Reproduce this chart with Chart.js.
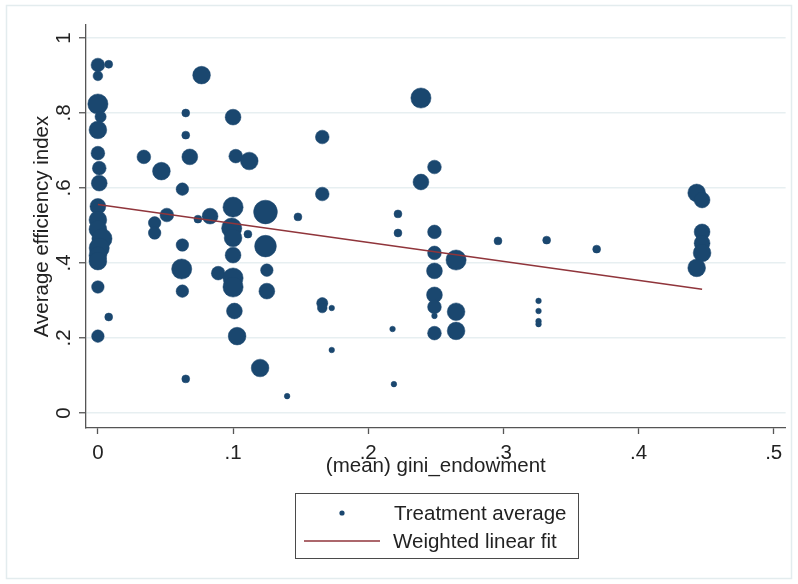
<!DOCTYPE html>
<html>
<head>
<meta charset="utf-8">
<title>Average efficiency index by gini endowment</title>
<script src="https://cdn.jsdelivr.net/npm/chart.js@4.4.1/dist/chart.umd.min.js"></script>
<style>
  html, body { margin: 0; padding: 0; background: #fff; }
  #wrap { position: relative; width: 798px; height: 584px; }
</style>
</head>
<body>
<div id="wrap"><canvas id="effChart" width="798" height="584"></canvas></div>
<script>
// treatment averages: gini of endowment, average efficiency, weight (obs per treatment)
var giniX = [
  0, 0.008, 0, 0, 0.002, 0, 0, 0.001, 0.001, 0,
  0, 0, 0.003, 0.001, 0, 0, 0, 0.008, 0,
  0.034, 0.047, 0.042, 0.042, 0.051, 0.074, 0.083, 0.065, 0.065, 0.068, 0.0625,
  0.0625, 0.062, 0.0625, 0.065, 0.0767, 0.089,
  0.100, 0.102, 0.112, 0.100, 0.099, 0.100, 0.100, 0.111, 0.100, 0.100, 0.101, 0.103,
  0.120, 0.124, 0.124, 0.125, 0.125, 0.140, 0.148,
  0.166, 0.166, 0.166, 0.166, 0.173, 0.173,
  0.218, 0.219, 0.222, 0.222,
  0.239, 0.249, 0.239, 0.249, 0.249, 0.249, 0.249, 0.249, 0.249, 0.249,
  0.265, 0.265, 0.265,
  0.296, 0.332, 0.369, 0.326, 0.326, 0.326, 0.326,
  0.443, 0.447, 0.447, 0.447, 0.447, 0.443
];
var effY = [
  0.928, 0.930, 0.899, 0.824, 0.790, 0.755, 0.693, 0.653, 0.613, 0.551,
  0.515, 0.490, 0.465, 0.440, 0.420, 0.405, 0.336, 0.256, 0.205,
  0.683, 0.645, 0.507, 0.480, 0.528, 0.517, 0.525, 0.800, 0.741, 0.683, 0.597,
  0.448, 0.384, 0.325, 0.091, 0.901, 0.373,
  0.789, 0.685, 0.672, 0.549, 0.493, 0.467, 0.421, 0.477, 0.360, 0.336, 0.272, 0.205,
  0.120, 0.536, 0.445, 0.381, 0.325, 0.045, 0.523,
  0.736, 0.584, 0.293, 0.280, 0.280, 0.168,
  0.224, 0.077, 0.531, 0.480,
  0.840, 0.656, 0.616, 0.483, 0.427, 0.379, 0.315, 0.283, 0.259, 0.213,
  0.408, 0.270, 0.219,
  0.459, 0.461, 0.437, 0.299, 0.272, 0.245, 0.237,
  0.587, 0.568, 0.483, 0.453, 0.427, 0.387
];
var obsWeight = [
  6, 2, 3, 13, 4, 10, 6, 6, 8, 8,
  10, 10, 13, 13, 10, 10, 5, 2, 5,
  6, 10, 5, 5, 6, 2, 8, 2, 2, 8, 5,
  5, 13, 5, 2, 10, 6,
  8, 6, 10, 13, 13, 10, 8, 2, 13, 13, 8, 10,
  10, 18, 15, 5, 8, 1, 2,
  6, 6, 4, 3, 1, 1,
  1, 1, 2, 2,
  13, 6, 8, 6, 6, 8, 8, 6, 1, 6,
  13, 10, 10,
  2, 2, 2, 1, 1, 1, 1,
  10, 8, 8, 8, 10, 10
];

// weighted linear fit, drawn over the observed range of gini
var fitX = [0, 0.447];
var fitY = [0.556, 0.330];

var xTicks = [0, 0.1, 0.2, 0.3, 0.4, 0.5];
var yTicks = [0, 0.2, 0.4, 0.6, 0.8, 1];

var NAVY = "#1a476f";
var MAROON = "#90353b";
var TEXT = "#222";
var FONT = "'Liberation Sans', Arial, sans-serif";
var FSIZE = 20.5;

function stataLabel(v) {
  return v === 0 ? "0" : String(v).replace(/^0\./, ".");
}

var points = giniX.map(function (x, i) { return { x: x, y: effY[i] }; });
var fitLine = fitX.map(function (x, i) { return { x: x, y: fitY[i] }; });

// frame round the whole graph and a white background
var framePlugin = {
  id: "frame",
  beforeDraw: function (chart) {
    var ctx = chart.ctx;
    ctx.save();
    ctx.fillStyle = "#fff";
    ctx.fillRect(0, 0, chart.width, chart.height);
    ctx.strokeStyle = "#e3ecee";
    ctx.lineWidth = 1.5;
    ctx.strokeRect(6.5, 5.5, chart.width - 13, chart.height - 11);
    ctx.restore();
  }
};

// vertical tick labels on the y axis, reading upwards
var yLabelPlugin = {
  id: "yLabels",
  afterDraw: function (chart) {
    var ctx = chart.ctx;
    var sc = chart.scales.y;
    ctx.save();
    ctx.fillStyle = TEXT;
    ctx.font = FSIZE + "px " + FONT;
    ctx.textAlign = "center";
    ctx.textBaseline = "alphabetic";
    yTicks.forEach(function (v) {
      var py = sc.getPixelForValue(v);
      ctx.save();
      ctx.translate(sc.right - 16, py);
      ctx.rotate(-Math.PI / 2);
      ctx.fillText(stataLabel(v), 0, 0);
      ctx.restore();
    });
    ctx.restore();
  }
};

// boxed legend under the x axis title
var legendPlugin = {
  id: "boxLegend",
  afterDraw: function (chart) {
    var ctx = chart.ctx;
    var ds = chart.data.datasets;
    var scatter = ds[1], fit = ds[0];
    ctx.save();
    ctx.strokeStyle = "#4a4a4a";
    ctx.lineWidth = 1;
    ctx.strokeRect(295.5, 493.5, 283, 65);

    ctx.fillStyle = scatter.backgroundColor;
    ctx.beginPath();
    ctx.arc(342, 513, 2.6, 0, Math.PI * 2);
    ctx.fill();

    ctx.strokeStyle = fit.borderColor;
    ctx.lineWidth = 1.6;
    ctx.beginPath();
    ctx.moveTo(304, 541);
    ctx.lineTo(380, 541);
    ctx.stroke();

    ctx.fillStyle = TEXT;
    ctx.font = FSIZE + "px " + FONT;
    ctx.textAlign = "left";
    ctx.textBaseline = "alphabetic";
    ctx.fillText(scatter.label, 394, 520);
    ctx.fillText(fit.label, 393, 548);
    ctx.restore();
  }
};

var chart = new Chart(document.getElementById("effChart").getContext("2d"), {
  type: "scatter",
  data: {
    datasets: [
      {
        type: "line",
        label: "Weighted linear fit",
        data: fitLine,
        borderColor: MAROON,
        backgroundColor: MAROON,
        borderWidth: 1.6,
        pointRadius: 0,
        fill: false,
        order: 0
      },
      {
        label: "Treatment average",
        data: points,
        backgroundColor: NAVY,
        pointBorderColor: NAVY,
        pointBorderWidth: 0.5,
        pointRadius: function (c) { return 2.8 * Math.sqrt(obsWeight[c.dataIndex]); },
        pointHoverRadius: function (c) { return 2.8 * Math.sqrt(obsWeight[c.dataIndex]); },
        clip: false,
        order: 1
      }
    ]
  },
  options: {
    responsive: false,
    animation: false,
    devicePixelRatio: 1,
    layout: { padding: { left: 0, right: 8, top: 25, bottom: 96 } },
    plugins: {
      legend: { display: false },
      tooltip: { enabled: false }
    },
    scales: {
      x: {
        type: "linear",
        min: -0.0088,
        max: 0.5088,
        afterBuildTicks: function (s) { s.ticks = xTicks.map(function (v) { return { value: v }; }); },
        afterFit: function (s) { s.height = 60; },
        grid: { drawOnChartArea: false, tickLength: 6, tickColor: "#555", tickWidth: 1.3 },
        border: { color: "#555", width: 1.3 },
        ticks: {
          padding: 7,
          color: TEXT,
          font: { family: FONT, size: FSIZE },
          maxRotation: 0,
          callback: function (v) { return stataLabel(v); }
        },
        title: {
          display: true,
          text: "(mean) gini_endowment",
          color: TEXT,
          font: { family: FONT, size: FSIZE },
          padding: { top: 0, bottom: 9.7 }
        }
      },
      y: {
        type: "linear",
        min: -0.04,
        max: 1.0347,
        afterBuildTicks: function (s) { s.ticks = yTicks.map(function (v) { return { value: v }; }); },
        afterFit: function (s) { s.width = 86; },
        grid: { color: "#e7eff1", lineWidth: 1.5, tickLength: 7, tickColor: "#555", tickWidth: 1.3 },
        border: { color: "#555", width: 1.3 },
        ticks: { display: false },
        title: {
          display: true,
          text: "Average efficiency index",
          color: TEXT,
          font: { family: FONT, size: FSIZE },
          padding: { top: 29.7, bottom: 0 }
        }
      }
    }
  },
  plugins: [framePlugin, yLabelPlugin, legendPlugin]
});
</script>
</body>
</html>
